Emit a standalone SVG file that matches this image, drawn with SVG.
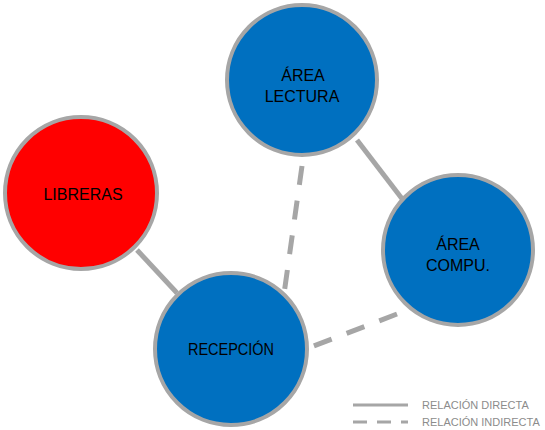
<svg xmlns="http://www.w3.org/2000/svg" width="545" height="430" viewBox="0 0 545 430">
<style>
.node{stroke:#A6A6A6;stroke-width:4}
.blue{fill:#0070C0}
.red{fill:#FF0000}
.lbl{font-family:"Liberation Sans",Arial,sans-serif;font-size:16px;fill:#000;text-anchor:middle}
.con{stroke:#A6A6A6;stroke-width:5;fill:none}
.dash{stroke-dasharray:19 16}
.leg{stroke:#A6A6A6;stroke-width:3;fill:none}
.legt{font-family:"Liberation Sans",Arial,sans-serif;font-size:11px;fill:#8C8C8C}
</style>
<rect width="545" height="430" fill="#fff"/>
<g id="connectors">
<line class="con" x1="137" y1="250" x2="177" y2="293"/>
<line class="con" x1="357" y1="140" x2="403" y2="200"/>
<line class="con dash" x1="302" y1="166" x2="284" y2="294"/>
<line class="con dash" x1="397" y1="314" x2="306" y2="349"/>
</g>
<g id="area-lectura">
<circle class="node blue" cx="302" cy="80" r="75"/>
<text class="lbl" x="303" y="81">ÁREA</text>
<text class="lbl" x="302" y="102">LECTURA</text>
</g>
<g id="libreras">
<circle class="node red" cx="81" cy="193" r="76"/>
<text class="lbl" x="83" y="200">LIBRERAS</text>
</g>
<g id="area-compu">
<circle class="node blue" cx="458" cy="250" r="75"/>
<text class="lbl" x="458" y="250">ÁREA</text>
<text class="lbl" x="458" y="271">COMPU.</text>
</g>
<g id="recepcion">
<circle class="node blue" cx="231" cy="349" r="76"/>
<text class="lbl" x="231" y="355" textLength="86" lengthAdjust="spacingAndGlyphs">RECEPCIÓN</text>
</g>
<g id="legend">
<line class="leg" x1="353" y1="405" x2="408" y2="405"/>
<line class="leg" x1="353" y1="422" x2="408" y2="422" stroke-dasharray="14 10"/>
<text class="legt" x="422" y="409">RELACIÓN DIRECTA</text>
<text class="legt" x="422" y="426">RELACIÓN INDIRECTA</text>
</g>
</svg>
